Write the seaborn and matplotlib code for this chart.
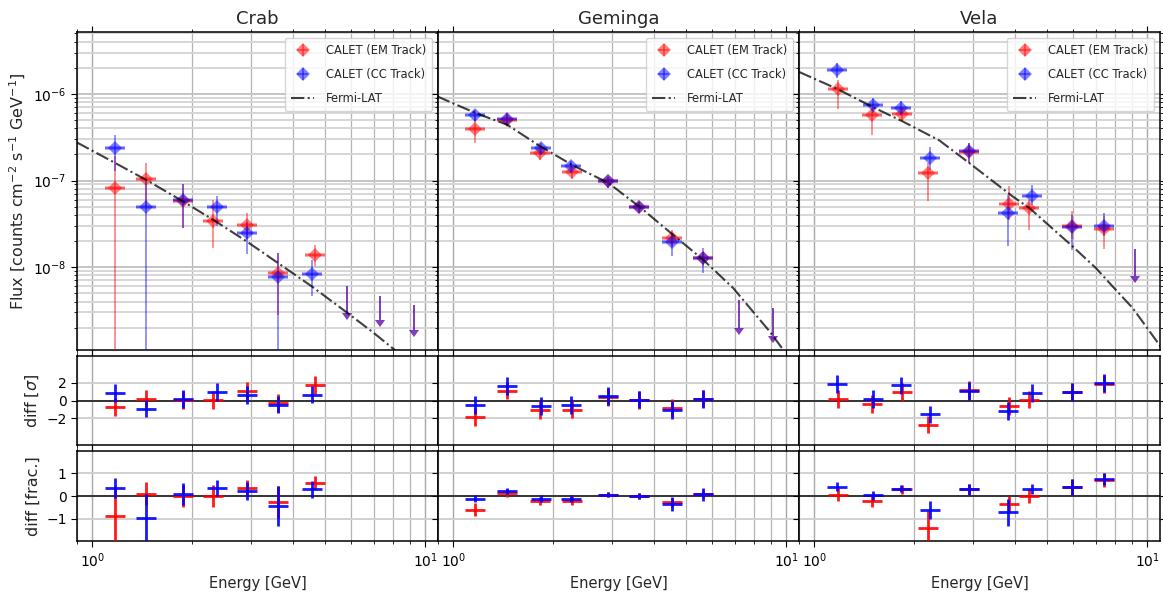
import numpy as np
import matplotlib
matplotlib.use("Agg")
import matplotlib.pyplot as plt
from matplotlib.ticker import NullFormatter, FixedLocator
import seaborn as sns

SOURCES = ["Crab", "Geminga", "Vela"]

# ---------------- Crab ----------------
crab_em_energy = [1.17, 1.45, 1.87, 2.30, 2.91, 3.62, 4.66]
crab_em_flux = [8.1e-8, 1.05e-7, 5.8e-8, 3.4e-8, 3.05e-8, 8.6e-9, 1.37e-8]
crab_em_flux_lo = [1e-10, 5.0e-8, 2.8e-8, 1.65e-8, 2.1e-8, 2.8e-9, 1.02e-8]
crab_em_flux_hi = [1.9e-7, 1.6e-7, 9.0e-8, 6.0e-8, 4.2e-8, 1.46e-8, 1.82e-8]
crab_cc_energy = [1.17, 1.45, 1.87, 2.37, 2.91, 3.62, 4.56]
crab_cc_flux = [2.4e-7, 4.9e-8, 6.0e-8, 4.9e-8, 2.45e-8, 7.6e-9, 8.4e-9]
crab_cc_flux_lo = [1.3e-7, 1e-10, 2.8e-8, 3.0e-8, 1.4e-8, 1e-10, 4.6e-9]
crab_cc_flux_hi = [3.4e-7, 1.0e-7, 9.0e-8, 6.6e-8, 3.3e-8, 1.45e-8, 1.22e-8]
crab_ul_energy = [5.84, 7.33, 9.23]
crab_ul_flux = [6.0e-9, 4.6e-9, 3.6e-9]
crab_ul_end = [2.98e-9, 2.47e-9, 1.89e-9]
crab_fermi_energy = [0.90, 1.17, 1.45, 1.87, 2.33, 2.91, 3.62, 4.56, 5.84, 7.0, 8.09, 9.3]
crab_fermi_flux = [2.75e-7, 1.60e-7, 1.02e-7, 5.77e-8, 3.44e-8, 1.98e-8, 1.11e-8,
                   6.0e-9, 2.96e-9, 1.74e-9, 1.11e-9, 7.2e-10]
crab_em_sigma = [-0.71, 0.22, 0.10, 0.04, 1.05, -0.26, 1.72]
crab_cc_sigma = [0.86, -0.90, 0.15, 0.97, 0.60, -0.45, 0.67]
crab_em_frac = [-0.91, 0.11, 0.0, 0.0, 0.36, -0.27, 0.59]
crab_em_frac_err = [1.35, 0.5, 0.5, 0.5, 0.33, 0.7, 0.3]
crab_cc_frac = [0.36, -0.98, 0.08, 0.36, 0.23, -0.45, 0.30]
crab_cc_frac_err = [0.43, 1.05, 0.5, 0.37, 0.4, 0.9, 0.38]

# ---------------- Geminga ----------------
geminga_em_energy = [1.16, 1.45, 1.82, 2.27, 2.91, 3.62, 4.53, 5.64]
geminga_em_flux = [3.94e-7, 4.95e-7, 2.08e-7, 1.27e-7, 9.8e-8, 5.0e-8, 2.16e-8, 1.27e-8]
geminga_em_flux_lo = [2.71e-7, 4.22e-7, 1.74e-7, 1.04e-7, 8.2e-8, 4.2e-8, 1.73e-8, 1.02e-8]
geminga_em_flux_hi = [5.5e-7, 6.0e-7, 2.48e-7, 1.52e-7, 1.11e-7, 5.7e-8, 2.7e-8, 1.51e-8]
geminga_cc_energy = [1.16, 1.45, 1.83, 2.26, 2.91, 3.62, 4.53, 5.64]
geminga_cc_flux = [5.77e-7, 5.14e-7, 2.38e-7, 1.46e-7, 9.8e-8, 5.0e-8, 1.95e-8, 1.27e-8]
geminga_cc_flux_lo = [4.82e-7, 4.4e-7, 1.99e-7, 1.22e-7, 8.2e-8, 4.2e-8, 1.33e-8, 8.5e-9]
geminga_cc_flux_hi = [6.6e-7, 6.0e-7, 2.71e-7, 1.66e-7, 1.11e-7, 5.7e-8, 2.47e-8, 1.66e-8]
geminga_ul_energy = [7.23, 9.14]
geminga_ul_flux = [4.19e-9, 3.36e-9]
geminga_ul_end = [2.0e-9, 1.58e-9]
geminga_fermi_energy = [0.895, 1.166, 1.451, 1.827, 2.30, 2.928, 3.642, 4.532,
                        5.641, 6.937, 8.928, 9.795, 10.7]
geminga_fermi_flux = [9.38e-7, 6.03e-7, 4.42e-7, 2.48e-7, 1.48e-7, 9.35e-8, 4.91e-8,
                      2.43e-8, 1.21e-8, 5.71e-9, 1.80e-9, 1.11e-9, 6.9e-10]
geminga_em_sigma = [-1.87, 1.12, -1.09, -1.01, 0.41, 0.04, -0.82, 0.22]
geminga_cc_sigma = [-0.52, 1.61, -0.64, -0.52, 0.49, 0.11, -1.09, 0.19]
geminga_em_frac = [-0.61, 0.14, -0.23, -0.20, 0.06, 0.0, -0.27, 0.08]
geminga_em_frac_err = [0.3, 0.17, 0.18, 0.18, 0.12, 0.12, 0.2, 0.18]
geminga_cc_frac = [-0.12, 0.23, -0.12, -0.12, 0.06, 0.0, -0.35, 0.08]
geminga_cc_frac_err = [0.15, 0.12, 0.15, 0.15, 0.12, 0.12, 0.3, 0.28]

# ---------------- Vela ----------------
vela_em_energy = [1.18, 1.49, 1.835, 2.19, 2.92, 3.84, 4.41, 5.95, 7.44]
vela_em_flux = [1.14e-6, 5.77e-7, 5.88e-7, 1.22e-7, 2.11e-7, 5.4e-8, 4.81e-8, 3.0e-8, 2.75e-8]
vela_em_flux_lo = [6.7e-7, 3.39e-7, 4.82e-7, 5.74e-8, 1.6e-7, 3.5e-8, 2.7e-8, 2.09e-8, 1.63e-8]
vela_em_flux_hi = [1.46e-6, 7.52e-7, 6.9e-7, 1.59e-7, 2.7e-7, 8.55e-8, 6.0e-8, 4.4e-8, 3.9e-8]
vela_cc_energy = [1.167, 1.504, 1.822, 2.22, 2.92, 3.81, 4.50, 5.95, 7.44]
vela_cc_flux = [1.91e-6, 7.38e-7, 6.89e-7, 1.82e-7, 2.17e-7, 4.27e-8, 6.67e-8, 2.94e-8, 3.0e-8]
vela_cc_flux_lo = [1.53e-6, 6.03e-7, 5.77e-7, 1.33e-7, 1.59e-7, 1.73e-8, 5.25e-8, 1.58e-8, 2.26e-8]
vela_cc_flux_hi = [2.28e-6, 9.0e-7, 8.2e-7, 2.44e-7, 2.72e-7, 6.85e-8, 8.9e-8, 4.03e-8, 4.2e-8]
vela_ul_energy = [9.22]
vela_ul_flux = [1.62e-8]
vela_ul_end = [7.97e-9]
vela_fermi_energy = [0.90, 1.175, 1.497, 1.843, 2.375, 2.924, 3.945, 4.429, 5.976,
                     7.025, 7.88, 9.05, 10.89, 11.5]
vela_fermi_flux = [1.80e-6, 1.14e-6, 7.08e-7, 4.82e-7, 2.91e-7, 1.59e-7, 6.55e-8,
                   4.81e-8, 1.73e-8, 9.7e-9, 5.97e-9, 3.36e-9, 1.26e-9, 9.5e-10]
vela_em_sigma = [0.19, -0.37, 0.94, -2.70, 1.16, -0.64, 0.11, 0.94, 1.87]
vela_cc_sigma = [1.87, 0.19, 1.69, -1.57, 1.05, -1.20, 0.86, 0.94, 1.99]
vela_em_frac = [0.06, -0.20, 0.29, -1.41, 0.29, -0.35, 0.0, 0.41, 0.71]
vela_em_frac_err = [0.3, 0.3, 0.18, 0.75, 0.25, 0.35, 0.3, 0.35, 0.3]
vela_cc_frac = [0.41, 0.03, 0.33, -0.62, 0.29, -0.73, 0.33, 0.41, 0.76]
vela_cc_frac_err = [0.2, 0.2, 0.17, 0.4, 0.25, 0.6, 0.22, 0.35, 0.25]

DATA = {
    "Crab": dict(
        em=(crab_em_energy, crab_em_flux, crab_em_flux_lo, crab_em_flux_hi),
        cc=(crab_cc_energy, crab_cc_flux, crab_cc_flux_lo, crab_cc_flux_hi),
        ul=(crab_ul_energy, crab_ul_flux, crab_ul_end),
        fermi=(crab_fermi_energy, crab_fermi_flux),
        sigma=(crab_em_sigma, crab_cc_sigma),
        frac=(crab_em_frac, crab_em_frac_err, crab_cc_frac, crab_cc_frac_err)),
    "Geminga": dict(
        em=(geminga_em_energy, geminga_em_flux, geminga_em_flux_lo, geminga_em_flux_hi),
        cc=(geminga_cc_energy, geminga_cc_flux, geminga_cc_flux_lo, geminga_cc_flux_hi),
        ul=(geminga_ul_energy, geminga_ul_flux, geminga_ul_end),
        fermi=(geminga_fermi_energy, geminga_fermi_flux),
        sigma=(geminga_em_sigma, geminga_cc_sigma),
        frac=(geminga_em_frac, geminga_em_frac_err, geminga_cc_frac, geminga_cc_frac_err)),
    "Vela": dict(
        em=(vela_em_energy, vela_em_flux, vela_em_flux_lo, vela_em_flux_hi),
        cc=(vela_cc_energy, vela_cc_flux, vela_cc_flux_lo, vela_cc_flux_hi),
        ul=(vela_ul_energy, vela_ul_flux, vela_ul_end),
        fermi=(vela_fermi_energy, vela_fermi_flux),
        sigma=(vela_em_sigma, vela_cc_sigma),
        frac=(vela_em_frac, vela_em_frac_err, vela_cc_frac, vela_cc_frac_err)),
}

EM_COLOR = "#ff0000"
CC_COLOR = "#0000ff"
BIN_HALF_DEX = 0.03  # half width of an energy bin, in decades

sns.set_style("ticks")
plt.rcParams.update({
    "font.family": ["DejaVu Sans"],
    "axes.edgecolor": "black",
    "axes.linewidth": 1.1,
    "xtick.color": "black",
    "ytick.color": "black",
    "xtick.major.size": 4,
    "ytick.major.size": 4,
    "xtick.minor.size": 2.5,
    "ytick.minor.size": 2.5,
    "xtick.labelsize": 10,
    "ytick.labelsize": 10,
    "axes.labelsize": 10.5,
    "axes.titlesize": 13,
})


def energy_err(E):
    E = np.asarray(E, dtype=float)
    return [E - E * 10 ** -BIN_HALF_DEX, E * 10 ** BIN_HALF_DEX - E]


def draw_flux(ax, E, F, lo, hi, color):
    E = np.asarray(E, dtype=float)
    F = np.asarray(F, dtype=float)
    yerr = [F - np.asarray(lo), np.asarray(hi) - F]
    ax.errorbar(E, F, xerr=energy_err(E), fmt="none", ecolor=color,
                elinewidth=3.0, alpha=0.3, zorder=3)
    h = ax.errorbar(E, F, xerr=energy_err(E), yerr=yerr, fmt="D", color=color,
                    ms=7, mew=0, elinewidth=1.2, alpha=0.5, zorder=4)
    return h


def draw_limits(ax, E, F, end, color):
    E = np.asarray(E, dtype=float)
    F = np.asarray(F, dtype=float)
    yerr = [F - np.asarray(end), np.zeros_like(F)]
    cont = ax.errorbar(E, F, yerr=yerr, uplims=True, fmt="none", ecolor=color,
                       elinewidth=1.4, capsize=3.5, alpha=0.5, zorder=4)
    for cap in cont[1]:
        if cap.get_marker() == "_":
            cap.set_visible(False)
        else:
            cap.set_markeredgewidth(0)
            cap.set_markerfacecolor(color)


def draw_resid(ax, E, r, err, color):
    ax.errorbar(E, r, xerr=energy_err(E), yerr=err, fmt="none", ecolor=color,
                elinewidth=2.0, alpha=0.9, zorder=4)


fig = plt.figure(figsize=(11.63, 5.98), dpi=100)
gs = fig.add_gridspec(3, 3, left=0.0662, right=0.9974, top=0.9465, bottom=0.0953,
                      height_ratios=[318, 89, 90], hspace=0.036, wspace=0.0)
axes = [[None] * 3 for _ in range(3)]
for r in range(3):
    for c in range(3):
        kw = {}
        if not (r == 0 and c == 0):
            kw["sharex"] = axes[0][0]
        if c > 0:
            kw["sharey"] = axes[r][0]
        axes[r][c] = fig.add_subplot(gs[r, c], **kw)

axes[0][0].set_xscale("log")
axes[0][0].set_yscale("log")
axes[0][0].set_xlim(0.9, 10.93)
axes[0][0].set_ylim(1.1e-9, 5.2e-6)
axes[1][0].set_ylim(-5, 5)
axes[2][0].set_ylim(-2, 2)

for c, src in enumerate(SOURCES):
    d = DATA[src]
    ax = axes[0][c]
    ax.grid(True, which="major", axis="x", color="#a8a8a8", lw=1.0)
    ax.grid(True, which="minor", axis="x", color="#b4b4b4", lw=0.9)
    ax.grid(True, which="major", axis="y", color="#c4c4c4", lw=1.4)
    ax.grid(True, which="minor", axis="y", color="#d6d6d6", lw=1.4)
    ax.set_axisbelow(True)

    fe, ff = d["fermi"]
    sns.lineplot(x=fe, y=ff, ax=ax, color="black", linestyle="-.", lw=1.5,
                 alpha=0.75, sort=False, estimator=None, legend=False, zorder=5)
    h_fermi = ax.lines[-1]

    h_em = draw_flux(ax, *d["em"], EM_COLOR)
    h_cc = draw_flux(ax, *d["cc"], CC_COLOR)
    ue, uf, uend = d["ul"]
    draw_limits(ax, ue, uf, uend, EM_COLOR)
    draw_limits(ax, ue, uf, uend, CC_COLOR)

    ax.set_title(src)
    ax.legend([h_em, h_cc, h_fermi],
              ["CALET (EM Track)", "CALET (CC Track)", "Fermi-LAT"],
              loc="upper right", fontsize=8.3, labelspacing=0.95,
              borderpad=0.55, handletextpad=1.0,
              framealpha=0.8, edgecolor="#cccccc")

    # significance residuals
    axs = axes[1][c]
    em_e = d["em"][0]
    cc_e = d["cc"][0]
    s_em, s_cc = d["sigma"]
    axs.axhline(0, color="black", lw=1.4, alpha=0.75, zorder=3)
    draw_resid(axs, em_e, s_em, 1.0, EM_COLOR)
    draw_resid(axs, cc_e, s_cc, 1.0, CC_COLOR)

    # fractional residuals
    axf = axes[2][c]
    f_em, f_em_err, f_cc, f_cc_err = d["frac"]
    axf.axhline(0, color="black", lw=1.4, alpha=0.75, zorder=3)
    draw_resid(axf, em_e, f_em, f_em_err, EM_COLOR)
    draw_resid(axf, cc_e, f_cc, f_cc_err, CC_COLOR)
    axf.set_xlabel("Energy [GeV]")

    for a in (axs, axf):
        a.grid(True, which="major", axis="x", color="#a8a8a8", lw=1.0)
        a.grid(True, which="minor", axis="x", color="#b4b4b4", lw=0.9)
        a.grid(True, which="major", axis="y", color="#d0d0d0", lw=1.4)
        a.set_axisbelow(True)

axes[1][0].yaxis.set_major_locator(FixedLocator([-2, 0, 2]))
axes[2][0].yaxis.set_major_locator(FixedLocator([-1, 0, 1]))

for r in range(3):
    for c in range(3):
        a = axes[r][c]
        a.tick_params(which="both", top=True, right=True, direction="out")
        a.xaxis.set_minor_formatter(NullFormatter())
        if r < 2:
            a.tick_params(labelbottom=False)
        if c > 0:
            a.tick_params(labelleft=False)

axes[0][0].set_ylabel(r"Flux [counts cm$^{-2}$ s$^{-1}$ GeV$^{-1}$]", fontsize=11.5)
axes[1][0].set_ylabel(r"diff [$\sigma$]", fontsize=11.5)
axes[2][0].set_ylabel("diff [frac.]", fontsize=11.5)

fig.savefig("out.png", dpi=100)
